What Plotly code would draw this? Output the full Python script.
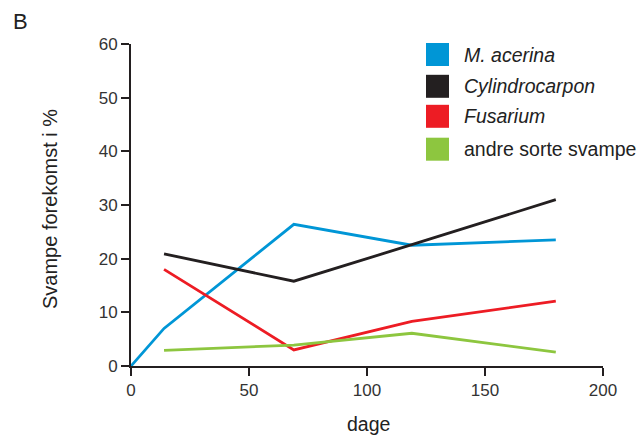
import plotly.graph_objects as go

days = [14, 69, 119, 180]
series_names = ["M. acerina", "Cylindrocarpon", "Fusarium", "andre sorte svampe"]
italic = [True, True, True, False]
colors = ["#0096d6", "#231f20", "#ed1c24", "#8dc63f"]

m_acerina_x = [0, 14, 69, 119, 180]
m_acerina = [0, 7.0, 26.4, 22.5, 23.5]
cylindrocarpon = [20.9, 15.8, 22.6, 31.0]
fusarium = [18.0, 3.0, 8.3, 12.1]
andre = [2.9, 3.9, 6.1, 2.6]

x_ticks = [0, 50, 100, 150, 200]
y_ticks = [0, 10, 20, 30, 40, 50, 60]

FONT = "Liberation Sans, Arial, sans-serif"
fig = go.Figure()
xs = [m_acerina_x, days, days, days]
ys = [m_acerina, cylindrocarpon, fusarium, andre]
for x, y, c, n in zip(xs, ys, colors, series_names):
    fig.add_trace(go.Scatter(x=x, y=y, mode="lines", name=n, hoverinfo="skip",
                             line=dict(color=c, width=2.8), showlegend=False))

W, H = 643, 436
L, R, T, B = 131, 40, 44, 70
pw, ph = W - L - R, H - T - B

def px2paper(px, py):
    return (px - L) / pw, (H - B - py) / ph

shapes = []
annotations = []
row_centers = [54.5, 86.3, 116.3, 149.2]
for name, col, it, cy in zip(series_names, colors, italic, row_centers):
    x0, y0 = px2paper(426, cy - 11.5)
    x1, y1 = px2paper(449, cy + 11.5)
    shapes.append(dict(type="rect", xref="paper", yref="paper", x0=x0, x1=x1,
                       y0=y1, y1=y0, fillcolor=col, line=dict(width=0)))
    tx, ty = px2paper(462, cy)
    txt = f"<i>{name}</i>" if it else name
    annotations.append(dict(xref="paper", yref="paper", x=tx, y=ty, text=txt,
                            showarrow=False, xanchor="left", yanchor="middle",
                            font=dict(size=19.5, color="#222", family=FONT)))

bx, by = px2paper(11, 22)
annotations.append(dict(xref="paper", yref="paper", x=bx, y=by, text="B",
                        showarrow=False, xanchor="left", yanchor="middle",
                        font=dict(size=22, color="#222", family=FONT)))
tx, ty = px2paper(368, 424)
annotations.append(dict(xref="paper", yref="paper", x=tx, y=ty, text="dage",
                        showarrow=False, xanchor="center", yanchor="middle",
                        font=dict(size=19.5, color="#222", family=FONT)))
tx, ty = px2paper(50, 209)
annotations.append(dict(xref="paper", yref="paper", x=tx, y=ty, text="Svampe forekomst i %",
                        showarrow=False, xanchor="center", yanchor="middle", textangle=-90,
                        font=dict(size=20, color="#222", family=FONT)))

fig.update_layout(
    width=W, height=H,
    margin=dict(l=L, r=R, t=T, b=B),
    paper_bgcolor="white", plot_bgcolor="white",
    font=dict(family=FONT, size=17, color="#333"),
    shapes=shapes, annotations=annotations,
    xaxis=dict(range=[0, 200], tickvals=x_ticks, showgrid=False, zeroline=False,
               showline=True, linecolor="#231f20", linewidth=2, automargin=False,
               ticks="outside", ticklen=8, tickwidth=2, tickcolor="#231f20",
               tickfont=dict(size=17, color="#333")),
    yaxis=dict(range=[0, 60], tickvals=y_ticks, showgrid=False, zeroline=False,
               showline=True, linecolor="#231f20", linewidth=2, automargin=False,
               ticks="outside", ticklen=8, tickwidth=2, tickcolor="#231f20",
               tickfont=dict(size=17, color="#333")),
)
fig.write_html("out.html", config={"displayModeBar": False},
               post_script="document.body.style.margin='0';document.body.style.overflow='hidden';")
